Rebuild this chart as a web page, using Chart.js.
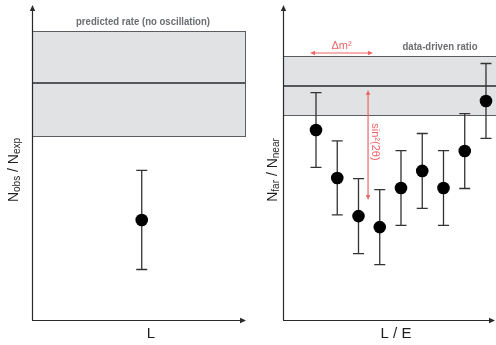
<!DOCTYPE html>
<html><head><meta charset="utf-8">
<script src="https://cdn.jsdelivr.net/npm/chart.js@4/dist/chart.umd.min.js"></script>
<style>
html,body{margin:0;padding:0;background:#fff;width:496px;height:345px;overflow:hidden}
#l{position:absolute;left:0;top:0}
#r{position:absolute;left:250px;top:0}
</style></head><body>
<canvas id="l" width="248" height="345"></canvas>
<canvas id="r" width="246" height="345"></canvas>
<script>
// ---- data ----
const leftX = [1];
const leftRatio = [0.422];
const leftErr = [0.209];
const leftBand = [0.776, 1.0, 1.219]; // low, centre, high
const leftBandLabel = 'predicted rate (no oscillation)';

const rightX = [1, 2, 3, 4, 5, 6, 7, 8, 9];
const rightRatio = [0.812, 0.607, 0.444, 0.397, 0.564, 0.637, 0.564, 0.722, 0.936];
const rightErr = [0.160, 0.158, 0.160, 0.160, 0.160, 0.160, 0.160, 0.160, 0.160];
const rightBand = [0.876, 1.0, 1.128];
const rightBandLabel = 'data-driven ratio';
const dm2Arrow = [0.72, 3.68, 1.141];   // x from, x to, y
const sinArrow = [3.45, 0.983, 0.513];  // x, y from, y to

const RED = '#ee6767';
const AX = '#2a2a2a';

function arrowHead(ctx, x, y, dir, size) {
  ctx.save(); ctx.translate(x, y); ctx.rotate(dir);
  ctx.beginPath(); ctx.moveTo(0, 0); ctx.lineTo(-size, -size * 0.45); ctx.lineTo(-size, size * 0.45); ctx.closePath(); ctx.fill();
  ctx.restore();
}

function subText(ctx, parts, cx, cy, rot) {
  ctx.save(); ctx.translate(cx, cy); ctx.rotate(rot);
  ctx.textBaseline = 'alphabetic';
  let w = 0;
  const big = '14px "Liberation Sans", Arial, sans-serif', small = '10px "Liberation Sans", Arial, sans-serif';
  parts.forEach(p => { ctx.font = p[1] ? small : big; w += ctx.measureText(p[0]).width; });
  let x = -w / 2;
  parts.forEach(p => {
    ctx.font = p[1] ? small : big;
    ctx.fillText(p[0], x, p[1] ? 7.5 : 5.5);
    x += ctx.measureText(p[0]).width;
  });
  ctx.restore();
}

function makePlugin(cfg) {
  return {
    id: 'deco',
    beforeDatasetsDraw(chart) {
      const ctx = chart.ctx, a = chart.chartArea, ys = chart.scales.y;
      const yl = ys.getPixelForValue(cfg.band[0]), yc = ys.getPixelForValue(cfg.band[1]), yh = ys.getPixelForValue(cfg.band[2]);
      const right = cfg.bandOpen ? chart.width + 2 : a.right;
      ctx.save();
      ctx.fillStyle = '#e1e2e4';
      ctx.fillRect(a.left, yh, right - a.left, yl - yh);
      ctx.strokeStyle = '#5a5d62'; ctx.lineWidth = 1;
      ctx.strokeRect(a.left + 0.5, Math.round(yh) + 0.5, right - a.left - 1, Math.round(yl - yh));
      ctx.lineWidth = 2; ctx.strokeStyle = '#55585c';
      ctx.beginPath(); ctx.moveTo(a.left, yc); ctx.lineTo(right, yc); ctx.stroke();
      // band label (condensed bold)
      ctx.fillStyle = '#6b6d70';
      ctx.font = 'bold 11px "Liberation Sans", Arial, sans-serif';
      ctx.textAlign = 'center'; ctx.textBaseline = 'middle';
      ctx.save(); ctx.translate(cfg.labelX(chart), yh - 9); ctx.scale(0.87, 1);
      ctx.fillText(cfg.bandLabel, 0, 0);
      ctx.restore();
      // error bars
      const xs = chart.scales.x;
      ctx.strokeStyle = '#333'; ctx.lineWidth = 1.3;
      cfg.xv.forEach((xv, i) => {
        const px = xs.getPixelForValue(xv);
        const t = ys.getPixelForValue(cfg.yv[i] + cfg.err[i]), b = ys.getPixelForValue(cfg.yv[i] - cfg.err[i]);
        ctx.beginPath();
        ctx.moveTo(px, t); ctx.lineTo(px, b);
        ctx.moveTo(px - 5.5, t); ctx.lineTo(px + 5.5, t);
        ctx.moveTo(px - 5.5, b); ctx.lineTo(px + 5.5, b);
        ctx.stroke();
      });
      ctx.restore();
    },
    afterDraw(chart) {
      const ctx = chart.ctx, a = chart.chartArea;
      ctx.save();
      ctx.strokeStyle = AX; ctx.fillStyle = AX; ctx.lineWidth = 1.2;
      ctx.beginPath();
      ctx.moveTo(a.left + 0.5, a.bottom); ctx.lineTo(a.left + 0.5, a.top + 3);
      ctx.moveTo(a.left, a.bottom + 0.5); ctx.lineTo(a.right - 3, a.bottom + 0.5);
      ctx.stroke();
      arrowHead(ctx, a.left + 0.5, a.top, -Math.PI / 2, 6);
      arrowHead(ctx, a.right, a.bottom + 0.5, 0, 6);
      // axis titles
      ctx.fillStyle = '#1e1e1e';
      subText(ctx, cfg.yTitle, cfg.yTitleX, 170, -Math.PI / 2);
      ctx.font = '15px "Liberation Sans", Arial, sans-serif';
      ctx.textAlign = 'center'; ctx.textBaseline = 'middle';
      ctx.fillText(cfg.xTitle, cfg.xTitleX(chart), a.bottom + 14);
      if (cfg.extra) cfg.extra(chart);
      ctx.restore();
    }
  };
}

function makeChart(id, cfg) {
  return new Chart(document.getElementById(id), {
    type: 'scatter',
    data: { datasets: [{ data: cfg.xv.map((x, i) => ({ x: x, y: cfg.yv[i] })), backgroundColor: '#000', borderColor: '#000', pointRadius: 6.3, pointHoverRadius: 6.3, borderWidth: 0 }] },
    options: {
      responsive: false, devicePixelRatio: 1, animation: false,
      layout: { padding: cfg.padding, autoPadding: false },
      plugins: { legend: { display: false }, tooltip: { enabled: false } },
      scales: {
        x: { type: 'linear', display: false, min: cfg.xr[0], max: cfg.xr[1] },
        y: { type: 'linear', display: false, min: 0, max: cfg.ymax }
      }
    },
    plugins: [makePlugin(cfg)]
  });
}

makeChart('l', {
  xv: leftX, yv: leftRatio, err: leftErr, band: leftBand, bandLabel: leftBandLabel, bandOpen: false,
  padding: { left: 32, right: 2, top: 5, bottom: 25 }, xr: [0, 1.95], ymax: 1.329,
  labelX: c => c.chartArea.left + 111,
  yTitle: [['N', false], ['obs', true], [' / N', false], ['exp', true]], yTitleX: 12,
  xTitle: 'L', xTitleX: c => c.chartArea.left + 119
});

makeChart('r', {
  xv: rightX, yv: rightRatio, err: rightErr, band: rightBand, bandLabel: rightBandLabel, bandOpen: true,
  padding: { left: 33, right: 1, top: 5, bottom: 25 }, xr: [-0.553, 9.424], ymax: 1.346,
  labelX: c => c.chartArea.left + 157,
  yTitle: [['N', false], ['far', true], [' / N', false], ['near', true]], yTitleX: 21,
  xTitle: 'L / E', xTitleX: c => c.chartArea.left + 113,
  extra: chart => {
    const ctx = chart.ctx, xs = chart.scales.x, ys = chart.scales.y;
    ctx.strokeStyle = RED; ctx.fillStyle = RED; ctx.lineWidth = 1.2;
    const x1 = xs.getPixelForValue(dm2Arrow[0]), x2 = xs.getPixelForValue(dm2Arrow[1]), y = ys.getPixelForValue(dm2Arrow[2]);
    ctx.beginPath(); ctx.moveTo(x1 + 3, y); ctx.lineTo(x2 - 3, y); ctx.stroke();
    arrowHead(ctx, x1, y, Math.PI, 5); arrowHead(ctx, x2, y, 0, 5);
    ctx.font = '11px "Liberation Sans", Arial, sans-serif';
    ctx.textAlign = 'center'; ctx.textBaseline = 'alphabetic';
    ctx.fillText('\u0394m\u00b2', (x1 + x2) / 2, y - 4);
    const vx = xs.getPixelForValue(sinArrow[0]), vy1 = ys.getPixelForValue(sinArrow[1]), vy2 = ys.getPixelForValue(sinArrow[2]);
    ctx.beginPath(); ctx.moveTo(vx, vy1 + 3); ctx.lineTo(vx, vy2 - 3); ctx.stroke();
    arrowHead(ctx, vx, vy1, -Math.PI / 2, 5); arrowHead(ctx, vx, vy2, Math.PI / 2, 5);
    ctx.save(); ctx.translate(vx + 7, vy1 + 52); ctx.rotate(Math.PI / 2);
    ctx.textAlign = 'center'; ctx.textBaseline = 'middle';
    ctx.fillText('sin\u00b2(2\u03b8)', 0, 0);
    ctx.restore();
  }
});
</script>
</body></html>
